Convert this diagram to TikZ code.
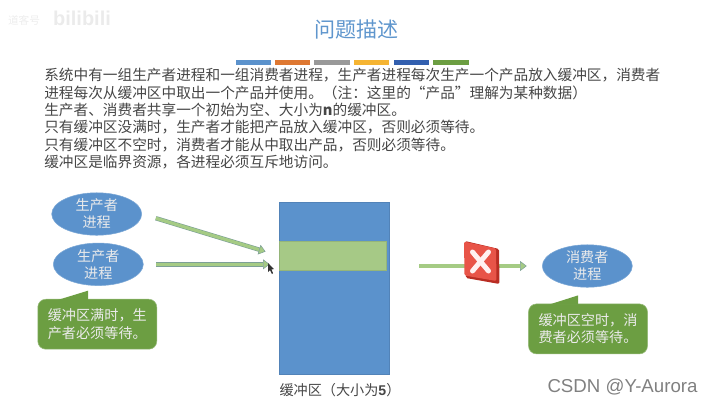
\documentclass[tikz,border=0pt]{standalone}
\usepackage{fontspec}
\setmainfont{Noto Sans CJK SC}
\setsansfont{Liberation Sans}
\usetikzlibrary{arrows.meta, shapes.geometric}

\definecolor{slideblue}{RGB}{91,146,204}
\definecolor{titleblue}{RGB}{95,150,205}
\definecolor{bubblegreen}{RGB}{108,158,66}
\definecolor{bandgreen}{RGB}{166,201,134}
\definecolor{arrowgreen}{RGB}{165,203,132}
\definecolor{arrowedge}{RGB}{125,160,150}
\definecolor{bodytext}{RGB}{70,70,70}
\definecolor{crossred}{RGB}{232,84,72}
\definecolor{crossdark}{RGB}{185,45,35}

\tikzset{
    process/.style={ellipse, fill=slideblue, draw=slideblue!80!white, minimum width=90\pxu, minimum height=42\pxu, inner sep=0pt, align=center, text=white!92!black, font=\fontsize{10.6}{12.8}\selectfont},
    bubble/.style={rectangle, rounded corners=8\pxu, fill=bubblegreen, draw=bubblegreen!70!white, minimum width=119\pxu, minimum height=50\pxu, inner sep=0pt, align=left, text=white!92!black, font=\fontsize{10.6}{13}\selectfont},
    tail/.style={fill=bubblegreen},
    fat arrow/.style={draw=arrowedge, double=arrowgreen, line width=.45pt, double distance=2.4pt, -{Triangle[length=5pt, width=7.5pt, color=arrowedge, fill=arrowgreen, line width=.4pt]}},
    bar/.style={minimum width=35.5\pxu, minimum height=4.5\pxu, inner sep=0pt, anchor=west}
}
\newcommand{\pxu}{pt*.75}

\begin{document}
\begin{tikzpicture}[x=.75pt, y=-.75pt]
    \useasboundingbox (0,0) rectangle (713,405);

    % TITLE
    \node[text=titleblue, font=\fontsize{15.8}{18}\selectfont] (title) at (356.5,29) {问题描述};
    \node[bar, fill=slideblue] (bar1) at (235.5,62.5) {};
    \node[bar, fill={rgb,255:red,222;green,120;blue,50}] (bar2) at (274.5,62.5) {};
    \node[bar, fill=black!40] (bar3) at (314,62.5) {};
    \node[bar, fill={rgb,255:red,245;green,180;blue,50}] (bar4) at (353.5,62.5) {};
    \node[bar, fill={rgb,255:red,50;green,95;blue,175}] (bar5) at (393.5,62.5) {};
    \node[bar, fill=bubblegreen] (bar6) at (433,62.5) {};

    % DESCRIPTION
    \node[anchor=north west, inner sep=0pt, align=left, text=bodytext, font=\fontsize{11}{13.05}\selectfont] (desc) at (44,68) {%
        系统中有一组生产者进程和一组消费者进程，生产者进程每次生产一个产品放入缓冲区，消费者\\
        进程每次从缓冲区中取出一个产品并使用。（注：这里的“产品”理解为某种数据）\\
        生产者、消费者共享一个初始为空、大小为{\bfseries n}的缓冲区。\\
        只有缓冲区没满时，生产者才能把产品放入缓冲区，否则必须等待。\\
        只有缓冲区不空时，消费者才能从中取出产品，否则必须等待。\\
        缓冲区是临界资源，各进程必须互斥地访问。};

    % PROCESSES
    \node[process] (producerA) at (96.7,214) {生产者\\进程};
    \node[process] (producerB) at (98.3,264.3) {生产者\\进程};
    \node[process] (consumer) at (587.3,266) {消费者\\进程};

    % BUFFER
    \node[fill=slideblue, draw=slideblue!90!black, minimum width=109.6\pxu, minimum height=172\pxu, inner sep=0pt] (buffer) at (334.5,288.3) {};
    \node[fill=bandgreen, draw=bandgreen!90!black, minimum width=106.3\pxu, minimum height=29\pxu, inner sep=0pt] (band) at (332.8,255.8) {};
    \node[text=bodytext, font=\fontsize{10.6}{12}\selectfont] (bufferlabel) at (340,390) {缓冲区（大小为{\bfseries\sffamily 5}）};
    \coordinate (bufferout) at (389.3,266);

    % BUBBLES
    \node[bubble] (fullnote) at (97.3,324.2) {缓冲区满时，生\\产者必须等待。};
    \fill[tail] ([xshift=20.3\pxu, yshift=-1\pxu]fullnote.north west) -- ([xshift=50.6\pxu, yshift=8.3\pxu]fullnote.north west) -- ([xshift=50.6\pxu, yshift=-1\pxu]fullnote.north west) -- cycle;
    \node[bubble] (emptynote) at (588,328.9) {缓冲区空时，消\\费者必须等待。};
    \fill[tail] ([xshift=20.7\pxu, yshift=-1\pxu]emptynote.north west) -- ([xshift=50\pxu, yshift=8.3\pxu]emptynote.north west) -- ([xshift=50\pxu, yshift=-1\pxu]emptynote.north west) -- cycle;

    % TRANSITIONS
    \draw[fat arrow, shorten <=14.5\pxu, shorten >=14.5\pxu] (producerA.east) -- (band.west);
    \draw[fat arrow, shorten <=12.7\pxu, shorten >=9.7\pxu] (producerB.east) -- (producerB.east -| band.west);
    \draw[fat arrow, shorten <=29.7\pxu, shorten >=15.3\pxu] (bufferout) -- (consumer.west);

    % BLOCKED
    \fill[crossdark, rounded corners=1.5\pxu] (465,241) -- (499,249) -- (499.5,284) -- (466,278) -- cycle;
    \fill[crossred, rounded corners=1.5\pxu] (464,241.5) -- (496,248.5) -- (496.5,281) -- (464.5,275.5) -- cycle;
    \draw[white!94!red, line width=5\pxu, line cap=round] (472.5,252) -- (488.5,271) (488.5,252) -- (472.5,271);

    % CURSOR
    \fill[black!80] (268,263) -- (268,272) -- (270,270) -- (272,274) -- (273,273) -- (271.5,269.5) -- (274,269) -- cycle;

    % WATERMARKS
    \node[text=black!8, font=\bfseries\fontsize{15}{16}\sffamily\selectfont] (bili) at (82,18) {bilibili};
    \node[text=black!7, font=\fontsize{8}{9}\selectfont] (corner) at (24,20) {道客号};
    \node[text=black!50, font=\fontsize{14}{16}\sffamily\selectfont] (csdn) at (622.5,387) {CSDN @Y-Aurora};
\end{tikzpicture}
\end{document}
